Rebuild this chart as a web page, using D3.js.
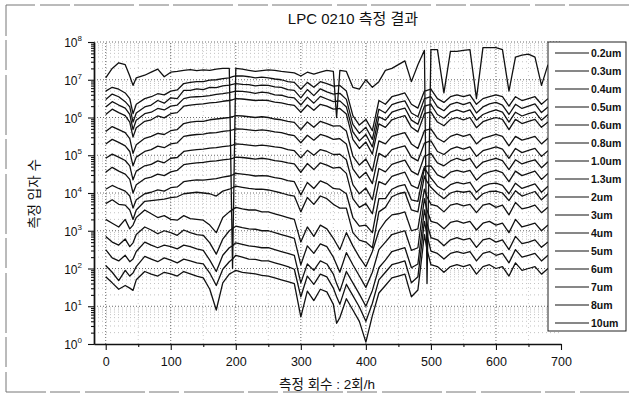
<!DOCTYPE html>
<html>
<head>
<meta charset="utf-8">
<script src="https://cdn.jsdelivr.net/npm/d3@7/dist/d3.min.js"></script>
<style>
  body { margin: 0; background: #fff; }
  svg { display: block; font-family: "Liberation Sans", Arial, "Noto Sans CJK KR", sans-serif; }
</style>
</head>
<body>
<div id="chart"></div>
<script>
// measurement index (2 per hour)
const xValues = [0, 10, 20, 30, 37, 42, 47, 60,
  70, 80, 90, 100, 110, 120, 130, 140, 150, 160, 170, 180, 190,
  195, 200, 210, 220, 230, 240, 250, 260, 270, 280, 290, 300, 310, 320, 330, 340, 350, 355,
  360, 370, 380, 390, 400, 410, 420, 430, 440, 450, 460, 470, 480, 490, 494,
  500, 510, 520, 530, 540, 550, 560, 570, 580, 590, 600, 610, 620, 630, 640, 650, 660, 670, 680];

const sizeLabels = ['0.2um', '0.3um', '0.4um', '0.5um', '0.6um', '0.8um', '1.0um', '1.3um',
  '2um', '3um', '4um', '5um', '6um', '7um', '8um', '10um'];

// particle counts, stored as log10 exponents
const exp02 = [7.05, 7.3, 7.45, 7.4, 7.1, 6.85, 7.05, 7.12,
  7.2, 7.28, 7.08, 7.2, 7.22, 7.25, 7.27, 7.24, 7.26, 7.25, 7.28, 7.3, 7.3,
  2.0, 7.3, 7.28, 7.25, 7.22, 7.24, 7.26, 7.25, 7.22, 7.2, 7.18, 7.1, 7.2, 7.15, 7.2, 7.25, 7.22, 6.0,
  7.25, 7.22, 6.8, 6.75, 7.0, 6.8, 6.95, 7.25, 7.3, 7.4, 7.5, 6.95, 7.4, 7.78, 1.6,
  7.8, 7.8, 6.65, 7.75, 7.75, 7.78, 7.8, 6.5, 7.85, 7.85, 7.85, 7.8, 6.7, 7.6, 7.65, 7.68, 7.6, 6.85, 7.4];
const exp03 = [6.70, 6.80, 6.75, 6.65, 6.50, 6.10, 6.35, 6.50,
  6.55, 6.63, 6.60, 6.70, 6.73, 6.90, 6.93, 6.95, 6.95, 6.99, 7.00, 7.03, 7.05,
  7.08, 7.10, 7.10, 7.08, 7.05, 7.07, 7.05, 7.02, 7.00, 6.95, 6.93, 6.75, 6.93, 6.80, 6.95, 6.90, 6.83, 6.84,
  6.85, 6.70, 6.05, 5.80, 5.95, 5.65, 6.45, 6.35, 6.55, 6.60, 6.65, 6.35, 6.25, 6.70, 6.72,
  6.75, 6.50, 6.40, 6.55, 6.60, 6.55, 6.60, 6.35, 6.50, 6.55, 6.60, 6.55, 6.30, 6.55, 6.45, 6.50, 6.55, 6.35, 6.50];
const exp04 = [6.48, 6.62, 6.55, 6.42, 6.28, 5.88, 6.12, 6.28,
  6.33, 6.45, 6.38, 6.52, 6.50, 6.72, 6.72, 6.76, 6.74, 6.80, 6.79, 6.84, 6.86,
  6.88, 6.90, 6.88, 6.87, 6.84, 6.86, 6.85, 6.81, 6.80, 6.74, 6.72, 6.52, 6.74, 6.58, 6.76, 6.68, 6.62, 6.63,
  6.64, 6.48, 5.82, 5.58, 5.74, 5.42, 6.22, 6.12, 6.34, 6.40, 6.44, 6.12, 6.02, 6.50, 6.52,
  6.55, 6.28, 6.18, 6.35, 6.40, 6.34, 6.40, 6.12, 6.28, 6.36, 6.40, 6.33, 6.08, 6.35, 6.24, 6.30, 6.36, 6.13, 6.28];
const exp05 = [6.28, 6.42, 6.33, 6.25, 6.08, 5.68, 5.93, 6.10,
  6.14, 6.24, 6.20, 6.30, 6.33, 6.50, 6.54, 6.55, 6.56, 6.58, 6.61, 6.63, 6.66,
  6.68, 6.70, 6.69, 6.67, 6.64, 6.67, 6.65, 6.60, 6.59, 6.54, 6.52, 6.33, 6.54, 6.38, 6.56, 6.49, 6.42, 6.43,
  6.44, 6.28, 5.62, 5.38, 5.55, 5.22, 6.02, 5.93, 6.14, 6.20, 6.25, 5.93, 5.82, 6.30, 6.32,
  6.35, 6.08, 5.98, 6.14, 6.20, 6.14, 6.20, 5.93, 6.08, 6.15, 6.20, 6.14, 5.88, 6.14, 6.04, 6.10, 6.15, 5.93, 6.08];
const exp06 = [6.08, 6.22, 6.13, 6.05, 5.88, 5.48, 5.73, 5.90,
  5.94, 6.04, 5.99, 6.10, 6.13, 6.30, 6.33, 6.35, 6.36, 6.39, 6.40, 6.43, 6.45,
  6.47, 6.50, 6.49, 6.47, 6.45, 6.46, 6.45, 6.41, 6.39, 6.35, 6.32, 6.14, 6.33, 6.19, 6.35, 6.30, 6.22, 6.23,
  6.24, 6.09, 5.42, 5.18, 5.35, 5.03, 5.83, 5.74, 5.94, 6.00, 6.05, 5.74, 5.62, 6.10, 6.12,
  6.15, 5.88, 5.78, 5.95, 6.00, 5.94, 6.00, 5.73, 5.89, 5.95, 6.00, 5.95, 5.68, 5.95, 5.84, 5.90, 5.95, 5.74, 5.88];
const exp08 = [5.63, 5.76, 5.68, 5.60, 5.44, 5.05, 5.28, 5.45,
  5.50, 5.58, 5.55, 5.65, 5.68, 5.84, 5.88, 5.90, 5.90, 5.94, 5.96, 5.98, 6.00,
  6.02, 6.05, 6.04, 6.02, 6.00, 6.02, 6.00, 5.96, 5.94, 5.90, 5.87, 5.68, 5.88, 5.74, 5.90, 5.84, 5.77, 5.78,
  5.78, 5.64, 4.98, 4.74, 4.90, 4.58, 5.38, 5.30, 5.50, 5.55, 5.60, 5.30, 5.18, 5.65, 5.67,
  5.70, 5.45, 5.35, 5.50, 5.56, 5.50, 5.55, 5.30, 5.45, 5.50, 5.55, 5.50, 5.25, 5.50, 5.40, 5.45, 5.50, 5.30, 5.45];
const exp10 = [5.30, 5.42, 5.34, 5.25, 5.10, 4.72, 4.95, 5.10,
  5.15, 5.24, 5.20, 5.30, 5.33, 5.50, 5.53, 5.55, 5.56, 5.59, 5.60, 5.63, 5.65,
  5.67, 5.70, 5.69, 5.67, 5.65, 5.67, 5.65, 5.62, 5.60, 5.55, 5.52, 5.33, 5.53, 5.40, 5.55, 5.50, 5.42, 5.43,
  5.44, 5.30, 4.64, 4.40, 4.55, 4.25, 5.05, 4.95, 5.15, 5.20, 5.25, 4.95, 4.85, 5.32, 5.35,
  5.38, 5.10, 5.02, 5.16, 5.22, 5.16, 5.22, 4.97, 5.12, 5.17, 5.22, 5.16, 4.92, 5.18, 5.07, 5.13, 5.18, 4.97, 5.12];
const exp13 = [4.92, 5.03, 4.95, 4.86, 4.72, 4.35, 4.58, 4.72,
  4.76, 4.85, 4.80, 4.92, 4.94, 5.10, 5.13, 5.15, 5.16, 5.19, 5.20, 5.23, 5.25,
  5.27, 5.30, 5.29, 5.27, 5.25, 5.27, 5.25, 5.22, 5.20, 5.15, 5.12, 4.93, 5.13, 5.00, 5.15, 5.10, 5.02, 5.02,
  5.03, 4.88, 4.22, 3.98, 4.13, 3.82, 4.65, 4.56, 4.76, 4.82, 4.87, 4.58, 4.48, 4.98, 5.00,
  5.05, 4.80, 4.72, 4.85, 4.92, 4.86, 4.92, 4.66, 4.82, 4.87, 4.92, 4.86, 4.62, 4.88, 4.77, 4.83, 4.88, 4.67, 4.83];
const exp2 = [4.55, 4.68, 4.58, 4.50, 4.36, 4.00, 4.22, 4.38,
  4.42, 4.50, 4.46, 4.56, 4.60, 4.75, 4.78, 4.80, 4.81, 4.84, 4.85, 4.88, 4.90,
  4.92, 4.95, 4.94, 4.92, 4.90, 4.92, 4.90, 4.86, 4.84, 4.80, 4.77, 4.55, 4.78, 4.62, 4.80, 4.74, 4.66, 4.67,
  4.68, 4.52, 3.85, 3.62, 3.72, 3.45, 4.30, 4.22, 4.44, 4.50, 4.55, 4.20, 4.12, 4.70, 4.71,
  4.72, 4.48, 4.40, 4.55, 4.60, 4.55, 4.60, 4.34, 4.50, 4.56, 4.60, 4.54, 4.30, 4.58, 4.46, 4.52, 4.58, 4.36, 4.52];
const exp3 = [4.10, 4.20, 4.12, 4.05, 3.92, 3.60, 3.82, 3.98,
  4.02, 4.08, 4.05, 4.14, 4.16, 4.30, 4.33, 4.35, 4.34, 4.36, 4.38, 4.42, 4.45,
  4.48, 4.52, 4.50, 4.48, 4.45, 4.46, 4.45, 4.41, 4.38, 4.33, 4.30, 3.95, 4.28, 4.12, 4.32, 4.25, 4.12, 4.11,
  4.10, 3.98, 3.35, 3.12, 3.15, 2.95, 3.85, 3.85, 4.10, 4.18, 4.22, 3.82, 3.78, 4.65, 4.55,
  4.40, 4.18, 4.08, 4.22, 4.28, 4.24, 4.28, 4.02, 4.18, 4.24, 4.26, 4.20, 3.98, 4.26, 4.12, 4.18, 4.24, 4.02, 4.18];
const exp4 = [3.72, 3.82, 3.70, 3.68, 3.55, 3.30, 3.55, 3.78,
  3.80, 3.82, 3.84, 3.88, 3.90, 3.98, 4.00, 4.02, 4.00, 3.98, 3.92, 4.05, 4.10,
  4.14, 4.18, 4.15, 4.12, 4.10, 4.10, 4.08, 4.04, 4.00, 3.95, 3.92, 3.50, 3.88, 3.70, 3.92, 3.85, 3.70, 3.65,
  3.60, 3.60, 2.95, 2.75, 2.70, 2.55, 3.50, 3.62, 3.90, 3.98, 4.02, 3.55, 3.50, 4.45, 4.30,
  4.15, 3.98, 3.85, 4.00, 4.05, 4.02, 4.05, 3.82, 3.98, 4.04, 4.05, 4.00, 3.80, 4.06, 3.92, 3.98, 4.04, 3.82, 3.98];
const exp5 = [3.30, 3.20, 3.10, 3.30, 3.05, 3.15, 3.35, 3.55,
  3.45, 3.35, 3.40, 3.30, 3.28, 3.40, 3.32, 3.30, 3.28, 3.15, 2.95, 3.35, 3.50,
  3.56, 3.62, 3.58, 3.55, 3.55, 3.50, 3.50, 3.45, 3.40, 3.35, 3.30, 2.70, 3.10, 2.85, 3.15, 3.05, 2.80, 2.65,
  2.50, 2.95, 2.60, 2.30, 2.05, 2.45, 3.00, 3.25, 3.42, 3.45, 3.50, 3.00, 3.05, 4.10, 3.90,
  3.70, 3.65, 3.50, 3.68, 3.72, 3.66, 3.70, 3.48, 3.68, 3.72, 3.62, 3.68, 3.42, 3.75, 3.58, 3.62, 3.68, 3.48, 3.62];
const exp6 = [2.85, 2.70, 2.62, 2.78, 2.58, 2.68, 2.90, 3.10,
  3.02, 2.92, 3.00, 2.95, 2.88, 3.02, 2.95, 2.90, 2.88, 2.68, 2.38, 2.78, 3.00,
  3.06, 3.12, 3.08, 3.05, 3.04, 3.00, 3.00, 2.95, 2.90, 2.85, 2.80, 2.10, 2.60, 2.40, 2.65, 2.58, 2.30, 2.10,
  1.90, 2.42, 2.10, 1.80, 1.50, 1.90, 2.50, 2.70, 2.90, 2.95, 3.00, 2.48, 2.55, 3.85, 3.55,
  3.25, 3.20, 3.05, 3.22, 3.26, 3.20, 3.25, 3.02, 3.20, 3.25, 3.15, 3.20, 2.95, 3.30, 3.10, 3.15, 3.20, 3.00, 3.15];
const exp7 = [2.50, 2.28, 2.20, 2.35, 2.18, 2.25, 2.45, 2.70,
  2.62, 2.55, 2.62, 2.58, 2.52, 2.62, 2.58, 2.52, 2.48, 2.22, 1.92, 2.35, 2.55,
  2.60, 2.68, 2.64, 2.60, 2.58, 2.55, 2.55, 2.50, 2.45, 2.40, 2.35, 1.62, 2.12, 1.95, 2.20, 2.12, 1.85, 1.60,
  1.40, 1.92, 1.62, 1.32, 1.00, 1.42, 2.02, 2.22, 2.45, 2.50, 2.55, 2.02, 2.12, 3.55, 3.20,
  2.82, 2.76, 2.60, 2.76, 2.82, 2.76, 2.80, 2.56, 2.76, 2.80, 2.70, 2.76, 2.50, 2.85, 2.66, 2.70, 2.76, 2.56, 2.70];
const exp8 = [2.08, 1.90, 1.68, 1.95, 1.80, 1.88, 2.05, 2.32,
  2.25, 2.18, 2.28, 2.22, 2.15, 2.25, 2.20, 2.15, 2.12, 1.88, 1.55, 1.98, 2.18,
  2.25, 2.35, 2.30, 2.25, 2.24, 2.20, 2.20, 2.15, 2.10, 2.05, 1.98, 1.25, 1.80, 1.58, 1.85, 1.78, 1.48, 1.25,
  1.05, 1.58, 1.28, 0.98, 0.60, 1.08, 1.70, 1.90, 2.10, 2.15, 2.20, 1.62, 1.78, 3.25, 2.90,
  2.46, 2.40, 2.25, 2.40, 2.45, 2.40, 2.45, 2.20, 2.40, 2.45, 2.35, 2.40, 2.15, 2.50, 2.30, 2.35, 2.40, 2.20, 2.35];
const exp10um = [1.78, 1.62, 1.45, 1.55, 1.48, 1.42, 1.70, 1.92,
  1.85, 1.80, 1.90, 1.86, 1.80, 1.92, 1.86, 1.80, 1.75, 1.45, 0.90, 1.62, 1.85,
  1.90, 1.95, 1.90, 1.88, 1.86, 1.82, 1.80, 1.75, 1.70, 1.65, 1.60, 0.72, 1.40, 1.15, 1.45, 1.38, 1.05, 0.55,
  0.70, 1.20, 0.90, 0.60, 0.05, 0.75, 1.35, 1.55, 1.75, 1.80, 1.85, 1.25, 1.43, 2.90, 2.50,
  2.10, 2.05, 1.90, 2.05, 2.10, 2.05, 2.10, 1.85, 2.05, 2.10, 2.00, 2.05, 1.80, 2.15, 1.95, 2.00, 2.05, 1.85, 2.00];

const seriesExps = [exp02, exp03, exp04, exp05, exp06, exp08, exp10, exp13,
  exp2, exp3, exp4, exp5, exp6, exp7, exp8, exp10um];

const xTicks = [0, 100, 200, 300, 400, 500, 600, 700];
const yDecades = [0, 1, 2, 3, 4, 5, 6, 7, 8];

const W = 635, H = 396;
const svg = d3.select('#chart').append('svg')
  .attr('width', W)
  .attr('height', H);

// scan frame
svg.append('path')
  .attr('d', 'M629,5H6V392H629')
  .attr('fill', 'none')
  .attr('stroke', '#777')
  .attr('stroke-width', 1)
  .attr('stroke-dasharray', '60,4,30,5');

const x = d3.scaleLinear().domain([-18, 700]).range([94, 561]);
const y = d3.scaleLog().domain([1, 1e8]).range([344, 42]);

const grid = svg.append('g');
// minor horizontal grid
for (let k = 0; k < 8; k++) {
  for (let m = 2; m <= 9; m++) {
    grid.append('line')
      .attr('x1', x(-18)).attr('x2', x(700))
      .attr('y1', y(m * 10 ** k)).attr('y2', y(m * 10 ** k))
      .attr('stroke', '#999').attr('stroke-width', 0.6)
      .attr('stroke-dasharray', '1,3');
  }
}
yDecades.slice(1).forEach(k => {
  grid.append('line')
    .attr('x1', x(-18)).attr('x2', x(700))
    .attr('y1', y(10 ** k)).attr('y2', y(10 ** k))
    .attr('stroke', '#444').attr('stroke-width', 0.8)
    .attr('stroke-dasharray', '1,2');
});
d3.range(50, 700, 100).forEach(v => {
  grid.append('line')
    .attr('x1', x(v)).attr('x2', x(v))
    .attr('y1', y(1)).attr('y2', y(1e8))
    .attr('stroke', '#aaa').attr('stroke-width', 0.6)
    .attr('stroke-dasharray', '1,3');
});
xTicks.slice(0, -1).forEach(v => {
  grid.append('line')
    .attr('x1', x(v)).attr('x2', x(v))
    .attr('y1', y(1)).attr('y2', y(1e8))
    .attr('stroke', '#444').attr('stroke-width', 0.8)
    .attr('stroke-dasharray', '1,2');
});

// data lines
const line = d3.line()
  .x((d, i) => x(xValues[i]))
  .y(d => y(10 ** d));

svg.append('g')
  .selectAll('path')
  .data(seriesExps)
  .enter()
  .append('path')
  .attr('d', d => line(d))
  .attr('fill', 'none')
  .attr('stroke', '#111')
  .attr('stroke-width', 1.3)
  .attr('stroke-linejoin', 'round');

// axes
const xAxis = svg.append('g')
  .attr('transform', 'translate(0,' + y(1) + ')')
  .call(d3.axisBottom(x).tickValues(xTicks).tickSize(6).tickSizeOuter(0).tickFormat(d3.format('d')));
svg.append('g')
  .attr('transform', 'translate(0,' + y(1) + ')')
  .call(d3.axisBottom(x).tickValues(d3.range(50, 700, 100)).tickSize(3).tickSizeOuter(0).tickFormat(''))
  .select('.domain').remove();
xAxis.selectAll('text')
  .attr('font-size', 12.5)
  .attr('font-family', '"Liberation Sans", Arial, sans-serif')
  .attr('fill', '#111')
  .attr('dy', '1.05em');

const yMinor = [];
for (let k = 0; k < 8; k++) {
  for (let m = 2; m <= 9; m++) yMinor.push(m * 10 ** k);
}
svg.append('g')
  .attr('transform', 'translate(' + x(-18) + ',0)')
  .call(d3.axisLeft(y).tickValues(yMinor).tickSize(3).tickSizeOuter(0).tickFormat(''));
const yAxis = svg.append('g')
  .attr('transform', 'translate(' + x(-18) + ',0)')
  .call(d3.axisLeft(y).tickValues(yDecades.map(k => 10 ** k)).tickSize(6).tickSizeOuter(0).tickFormat(''));
svg.selectAll('.domain').attr('stroke', '#111').attr('stroke-width', 1.4);
svg.selectAll('.tick line').attr('stroke', '#111').attr('stroke-width', 1.1);

const yLabels = svg.append('g')
  .selectAll('text')
  .data(yDecades)
  .enter()
  .append('text')
  .attr('x', 82)
  .attr('y', k => y(10 ** k) + 5)
  .attr('text-anchor', 'end')
  .attr('font-size', 12)
  .attr('fill', '#111');
yLabels.append('tspan').text('10');
yLabels.append('tspan')
  .attr('dy', -6)
  .attr('font-size', 8)
  .text(k => k);

// titles
svg.append('text')
  .attr('x', 353).attr('y', 24)
  .attr('text-anchor', 'middle')
  .attr('font-size', 15)
  .attr('fill', '#111')
  .text('LPC 0210 측정 결과');

svg.append('text')
  .attr('x', 327).attr('y', 389)
  .attr('text-anchor', 'middle')
  .attr('font-size', 13.5)
  .attr('fill', '#111')
  .text('측정 회수 : 2회/h');

svg.append('text')
  .attr('transform', 'translate(39,194) rotate(-90)')
  .attr('text-anchor', 'middle')
  .attr('font-size', 13.5)
  .attr('fill', '#111')
  .text('측정 입자 수');

// legend
const legend = svg.append('g');
legend.append('rect')
  .attr('x', 548).attr('y', 42)
  .attr('width', 78).attr('height', 289)
  .attr('fill', '#fff')
  .attr('stroke', '#222')
  .attr('stroke-width', 1);

const item = legend.selectAll('.item')
  .data(sizeLabels)
  .enter()
  .append('g')
  .attr('class', 'item')
  .attr('transform', (d, i) => 'translate(0,' + (53 + i * 18) + ')');
item.append('line')
  .attr('x1', 555).attr('x2', 589)
  .attr('stroke', '#111')
  .attr('stroke-width', 1.2);
item.append('text')
  .attr('x', 591).attr('y', 3.5)
  .attr('font-size', 10.5)
  .attr('font-weight', 'bold')
  .attr('fill', '#111')
  .text(d => d);
</script>
</body>
</html>
